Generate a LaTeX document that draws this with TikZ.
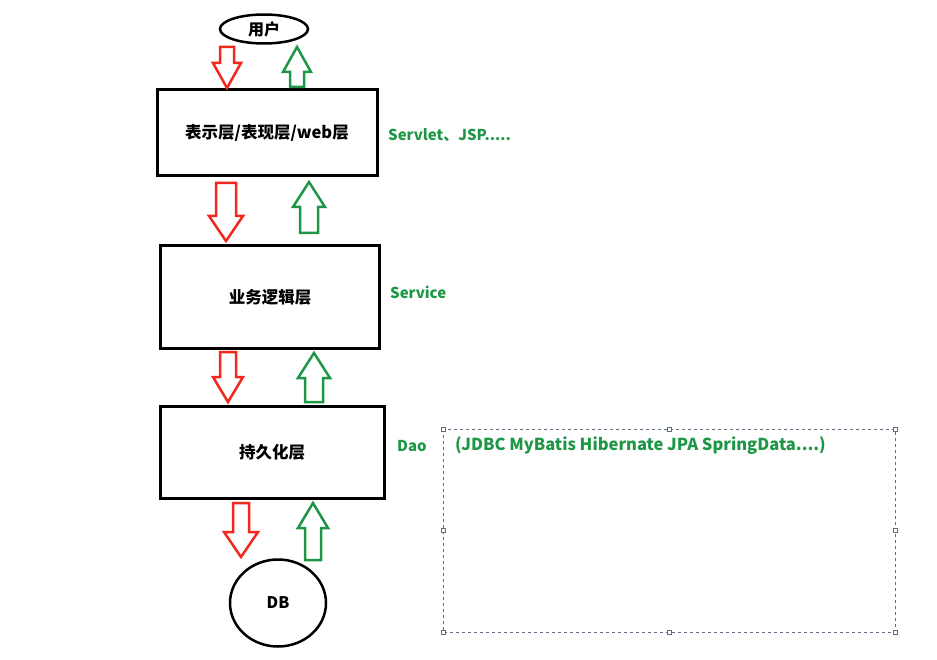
\documentclass[tikz,border=0pt]{standalone}
\usepackage{fontspec}
\usepackage{tikz}
\usetikzlibrary{shapes.geometric}
\newfontfamily\cjk{Noto Sans CJK SC}
\definecolor{layergreen}{RGB}{30,150,70}
\definecolor{layerred}{RGB}{240,40,30}
\definecolor{framegray}{RGB}{95,110,130}

% mũi tên rỗng: màu, x, y đuôi, y mũi, nửa thân, nửa đầu, dấu (1 xuống, -1 lên)
\newcommand{\blockarrow}[7]{%
  \draw[#1, line width=2.5pt, line join=miter]
    ({#2-#5},#3) -- ({#2+#5},#3) -- ({#2+#5},{#4-#7*25}) -- ({#2+#6},{#4-#7*25})
    -- (#2,#4) -- ({#2-#6},{#4-#7*25}) -- ({#2-#5},{#4-#7*25}) -- cycle;}

\begin{document}
\begin{tikzpicture}[x=1pt, y=-1pt,
    layer/.style={draw, line width=3pt, minimum width=220pt, inner sep=0pt,
      font=\cjk\bfseries\fontsize{16.5}{19}\selectfont},
    endpoint/.style={draw, ellipse, line width=2.5pt, inner sep=0pt,
      font=\cjk\bfseries\fontsize{16}{19}\selectfont},
    techlabel/.style={anchor=west, text=layergreen, inner sep=0pt,
      font=\cjk\bfseries\fontsize{15}{18}\selectfont},
    handle/.style={draw=framegray, fill=white, line width=0.6pt, minimum size=4pt, inner sep=0pt}]
  \useasboundingbox (0,0) rectangle (937,660);

  % Các tầng
  \node[endpoint, minimum width=88pt, minimum height=29pt] (user) at (264,29) {用户};
  \node[layer, minimum height=86pt] (web) at (267,133) {表示层/表现层/web层};
  \node[layer, minimum width=219pt, minimum height=102pt] (service) at (270,297) {业务逻辑层};
  \node[layer, minimum width=224pt, minimum height=92pt] (dao) at (272,452) {持久化层};
  \node[endpoint, minimum width=96pt, minimum height=87pt] (db) at (278,603) {DB};

  % Nhãn công nghệ
  \node[techlabel] (lblweb) at (388,135) {Servlet、JSP.....};
  \node[techlabel] (lblservice) at (390,292) {Service};
  \node[techlabel] (lbldao) at (397,446) {Dao};

  % Khung chọn nét đứt
  \draw[framegray, dashed, line width=0.8pt] (443,429) rectangle (895,632);
  \foreach \hx/\hy in {443/429, 669/429, 895/429, 443/530, 895/530, 443/632, 669/632, 895/632}
    \node[handle] at (\hx,\hy) {};
  \node[techlabel, font=\cjk\bfseries\fontsize{16.5}{19}\selectfont] (lblframe) at (455,446)
    {(JDBC MyBatis Hibernate JPA SpringData....)};

  % Mũi tên đi xuống (đỏ) và đi lên (xanh)
  \blockarrow{layerred}{227}{47}{88}{7}{14}{1}
  \blockarrow{layergreen}{297}{87}{47}{7}{14}{-1}
  \blockarrow{layerred}{226}{183}{241}{10}{17}{1}
  \blockarrow{layergreen}{309}{233}{182}{9}{16}{-1}
  \blockarrow{layerred}{228}{352}{402}{8}{15}{1}
  \blockarrow{layergreen}{314}{402}{353}{9}{16}{-1}
  \blockarrow{layerred}{241}{503}{557}{8}{17}{1}
  \blockarrow{layergreen}{313}{560}{503}{8}{15}{-1}
\end{tikzpicture}
\end{document}
